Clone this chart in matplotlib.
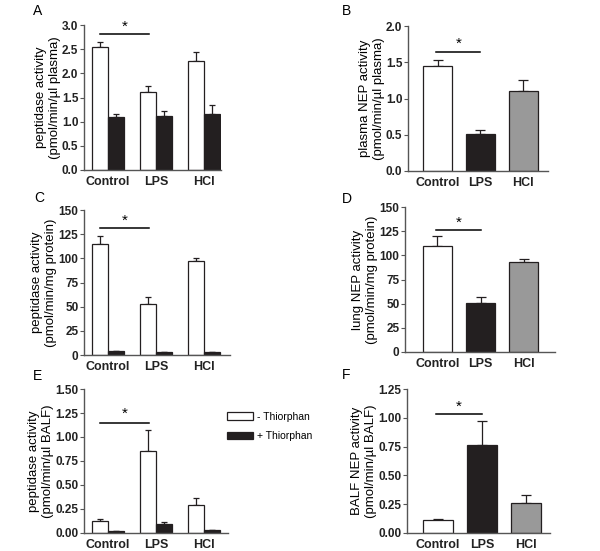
import numpy as np
import matplotlib
matplotlib.use("Agg")
import matplotlib.pyplot as plt
from matplotlib.patches import Patch

plt.rcParams['font.family'] = ['Liberation Sans', 'DejaVu Sans']
plt.rcParams['font.size'] = 8

# data
groups = ["Control", "LPS", "HCl"]

# A: plasma peptidase activity (pmol/min/ul plasma)
a_minus = [2.55, 1.62, 2.26]
a_minus_err = [0.10, 0.12, 0.18]
a_plus = [1.10, 1.12, 1.15]
a_plus_err = [0.06, 0.10, 0.19]

# B: plasma NEP activity
b_vals = [1.45, 0.51, 1.11]
b_err = [0.08, 0.05, 0.15]

# C: lung peptidase activity (pmol/min/mg protein)
c_minus = [115, 53, 97]
c_minus_err = [8, 7, 3]
c_plus = [4, 3, 3.5]
c_plus_err = [0, 0, 0]

# D: lung NEP activity
d_vals = [110, 51, 93]
d_err = [10, 6, 3]

# E: BALF peptidase activity (pmol/min/ul BALF)
e_minus = [0.13, 0.85, 0.29]
e_minus_err = [0.015, 0.22, 0.07]
e_plus = [0.02, 0.09, 0.03]
e_plus_err = [0.005, 0.02, 0.005]

# F: BALF NEP activity
f_vals = [0.11, 0.76, 0.26]
f_err = [0.01, 0.21, 0.07]

dark = '#231f20'
grey = '#999999'
spine_col = '#555555'

fig = plt.figure(figsize=(6.0, 5.51), dpi=100)

def style(ax, ylim, yticks, yfmt):
    ax.spines['top'].set_visible(False)
    ax.spines['right'].set_visible(False)
    for s in ['left', 'bottom']:
        ax.spines[s].set_color(spine_col)
        ax.spines[s].set_linewidth(1.0)
    ax.set_ylim(*ylim)
    ax.set_yticks(yticks)
    ax.set_yticklabels([yfmt.format(t) for t in yticks], fontsize=8.5, fontweight='bold', color='#222222')
    ax.tick_params(axis='y', length=3, width=0.8, color=spine_col, pad=1)
    ax.tick_params(axis='x', length=0, pad=4)
    ax.set_xticks(range(3))
    ax.set_xticklabels(groups, fontsize=9, fontweight='bold', color='#222222')

def paired(ax, minus, minus_err, plus, plus_err, xlim):
    x = np.arange(3)
    w = 0.333
    ax.bar(x - w/2, minus, w, color='white', edgecolor=dark, linewidth=0.9, zorder=2)
    ax.bar(x + w/2, plus, w, color=dark, edgecolor=dark, linewidth=0.9, zorder=2)
    ax.errorbar(x - w/2, minus, yerr=[np.zeros(3), minus_err], fmt='none', ecolor=dark,
                elinewidth=0.9, capsize=2.3, capthick=0.9, zorder=1)
    ax.errorbar(x + w/2, plus, yerr=[np.zeros(3), plus_err], fmt='none', ecolor=dark,
                elinewidth=0.9, capsize=2.3, capthick=0.9, zorder=1)
    ax.set_xlim(*xlim)

def single(ax, vals, err, xlim):
    x = np.arange(3)
    w = 0.67
    ax.bar(x, vals, w, color=['white', dark, grey], edgecolor=dark, linewidth=0.9, zorder=2)
    ax.errorbar(x, vals, yerr=[np.zeros(3), err], fmt='none', ecolor=dark,
                elinewidth=0.9, capsize=3.3, capthick=0.9, zorder=1)
    ax.set_xlim(*xlim)

def sig(ax, x0, x1, y, ystar):
    ax.plot([x0, x1], [y, y], color='black', linewidth=1.1, clip_on=False)
    ax.text((x0 + x1) / 2, ystar, '*', ha='center', va='center', fontsize=11)

# A
axA = fig.add_axes([0.14, 0.6915, 0.228, 0.263])
paired(axA, a_minus, a_minus_err, a_plus, a_plus_err, (-0.5, 2.35))
style(axA, (0, 3.0), [0, 0.5, 1.0, 1.5, 2.0, 2.5, 3.0], '{:.1f}')
sig(axA, -0.17, 0.85, 2.81, 2.97)
axA.set_ylabel('peptidase activity\n(pmol/min/µl plasma)', fontsize=9.5, labelpad=1)

# B
axB = fig.add_axes([0.68, 0.6897, 0.233, 0.263])
single(axB, b_vals, b_err, (-0.69, 2.57))
style(axB, (0, 2.0), [0, 0.5, 1.0, 1.5, 2.0], '{:.1f}')
sig(axB, -0.03, 1.0, 1.64, 1.75)
axB.set_ylabel('plasma NEP activity\n(pmol/min/µl plasma)', fontsize=9.5, labelpad=1)

# C
axC = fig.add_axes([0.14, 0.3557, 0.243, 0.263])
paired(axC, c_minus, c_minus_err, c_plus, c_plus_err, (-0.5, 2.54))
style(axC, (0, 150), [0, 25, 50, 75, 100, 125, 150], '{:d}')
sig(axC, -0.17, 0.85, 131, 139)
axC.set_ylabel('peptidase activity\n(pmol/min/mg protein)', fontsize=9.5, labelpad=1)

# D
axD = fig.add_axes([0.675, 0.3612, 0.25, 0.263])
single(axD, d_vals, d_err, (-0.75, 2.72))
style(axD, (0, 150), [0, 25, 50, 75, 100, 125, 150], '{:d}')
sig(axD, -0.03, 1.0, 126, 134)
axD.set_ylabel('lung NEP activity\n(pmol/min/mg protein)', fontsize=9.5, labelpad=1)

# E
axE = fig.add_axes([0.14, 0.0327, 0.24, 0.2613])
paired(axE, e_minus, e_minus_err, e_plus, e_plus_err, (-0.5, 2.5))
style(axE, (0, 1.5), [0, 0.25, 0.5, 0.75, 1.0, 1.25, 1.5], '{:.2f}')
sig(axE, -0.17, 0.85, 1.146, 1.24)
axE.set_ylabel('peptidase activity\n(pmol/min/µl BALF)', fontsize=9.5, labelpad=1)

# F
axF = fig.add_axes([0.678, 0.0327, 0.238, 0.2613])
single(axF, f_vals, f_err, (-0.7, 2.53))
style(axF, (0, 1.25), [0, 0.25, 0.5, 0.75, 1.0, 1.25], '{:.2f}')
sig(axF, -0.03, 1.0, 1.03, 1.1)
axF.set_ylabel('BALF NEP activity\n(pmol/min/µl BALF)', fontsize=9.5, labelpad=1)

# legend
handles = [Patch(facecolor='white', edgecolor=dark, linewidth=0.9, label='- Thiorphan'),
           Patch(facecolor=dark, edgecolor=dark, linewidth=0.9, label='+ Thiorphan')]
fig.legend(handles=handles, loc='upper left', bbox_to_anchor=(0.378, 0.253),
           frameon=False, fontsize=7.5, handlelength=2.5, handleheight=0.7,
           labelspacing=0.95, handletextpad=0.4, borderpad=0, borderaxespad=0)

# panel letters
for lab, (px, py) in zip('ABCDEF', [(33, 11), (342, 11), (34, 198), (342, 199), (33, 376), (342, 375)]):
    fig.text(px / 600, 1 - py / 551, lab, fontsize=10, ha='left', va='center')

fig.savefig('out.png', dpi=100)
